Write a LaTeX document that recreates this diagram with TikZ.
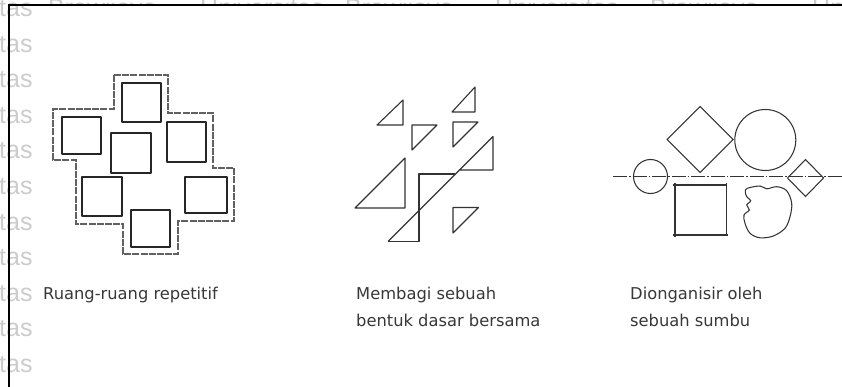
\documentclass[tikz,border=0pt]{standalone}
\usepackage{fontspec}
\setmainfont{DejaVu Sans}
\newfontfamily\wmfont{Liberation Sans}
\begin{document}
\begin{tikzpicture}[x=1pt,y=-1pt,
  wm/.style={text=black!20, font=\wmfont\fontsize{25}{25}\selectfont, anchor=base west, inner sep=0pt},
  caption/.style={text=black!78, font=\fontsize{16.3}{28}\selectfont, anchor=base west, inner sep=0pt},
  room/.style={draw=black!85, line width=1.8pt, line join=round},
  wall/.style={draw=black!62, line width=1.3pt, dash pattern=on 7pt off 1.2pt},
  tri/.style={draw=black!80, line width=1.1pt, line join=round},
  shp/.style={draw=black!80, line width=1.05pt},
  axisline/.style={draw=black!80, line width=1.1pt, dash pattern=on 14pt off 2pt on 1.5pt off 2pt},
  frameline/.style={draw=black, line width=1.6pt}]
\useasboundingbox (0,0) rectangle (842,387);
\fill[white] (0,0) rectangle (842,387);
% watermark
\foreach \i in {0,...,10} \node[wm] (wm\i) at (-1,{17+35.5*\i}) {tas};
\begin{scope}
  \clip (36,0) rectangle (842,5);
  \node[wm] (wt1) at (48,17) {Brawijaya};
  \node[wm] (wt2) at (200,17) {Universitas};
  \node[wm] (wt3) at (345,17) {Brawijaya};
  \node[wm] (wt4) at (495,17) {Universitas};
  \node[wm] (wt5) at (650,17) {Brawijaya};
  \node[wm] (wt6) at (812,17) {Un};
\end{scope}
% frame
\draw[frameline] (9,388) -- (9,5) -- (843,5);
% ---- figure 1 : repetitive rooms
\draw[wall] (114,75) -- (168,75) -- (168,113) -- (213,113) -- (213,168) -- (234,168)
  -- (234,221) -- (178,221) -- (178,254) -- (123,254) -- (123,224) -- (76,224)
  -- (76,160) -- (53,160) -- (53,109) -- (114,109) -- cycle;
\draw[room] (122,83) rectangle (161,122);
\draw[room] (62,117) rectangle (101,154);
\draw[room] (111,133) rectangle (151,173);
\draw[room] (167,122) rectangle (206,162);
\draw[room] (82,177) rectangle (122,216);
\draw[room] (185,177) rectangle (227,213);
\draw[room] (131,210) rectangle (170,247);
\node[caption] (cap1) at (43,299) {Ruang-ruang repetitif};
% ---- figure 2 : triangles
\draw[tri] (377,125) -- (403,125) -- (403,100) -- cycle;
\draw[tri] (412,125) -- (437,125) -- (412,150) -- cycle;
\draw[tri] (452,112) -- (475,112) -- (475,87) -- cycle;
\draw[tri] (453,122) -- (478,122) -- (453,147) -- cycle;
\draw[tri] (355,208) -- (405,208) -- (405,158) -- cycle;
\draw[tri] (388,241.5) -- (493,136.5) -- (493,170) -- (459.5,170);
\draw[tri] (455,174) -- (419,174) -- (419,241.5) -- (388,241.5);
\draw[tri] (453,207.5) -- (478.5,207.5) -- (453,233) -- cycle;
\node[caption] (cap2a) at (356,299) {Membagi sebuah};
\node[caption] (cap2b) at (356,326) {bentuk dasar bersama};
% ---- figure 3 : axis
\draw[axisline] (613,176.5) -- (842,176.5);
\draw[shp] (650.5,176.5) circle (17);
\draw[shp] (700,106.5) -- (733,139.5) -- (700,172.5) -- (667,139.5) -- cycle;
\draw[shp] (765.3,140) circle (30.5);
\draw[shp] (805.5,159.5) -- (823.5,178) -- (805.5,196.5) -- (787.5,178) -- cycle;
\draw[shp] (673,185) -- (727,185) (726.7,183.5) -- (726.7,235.5) (728,235) -- (673,235) (675,183) -- (675,237);
\draw[shp] plot[smooth cycle, tension=0.55] coordinates {(747.3,188.3) (760,186) (766.7,188.8) (776.7,186.7) (786.7,190.7) (791.7,203.3) (790,216.7) (785,228.3) (773.3,236) (760,237.8) (750,233.3) (745,223.3) (744,215) (749.3,210) (746.7,205) (750.7,200.7) (746.7,196.7) (745.3,191.7)};
\node[caption] (cap3a) at (630,299) {Dionganisir oleh};
\node[caption] (cap3b) at (630,326) {sebuah sumbu};
\end{tikzpicture}
\end{document}
